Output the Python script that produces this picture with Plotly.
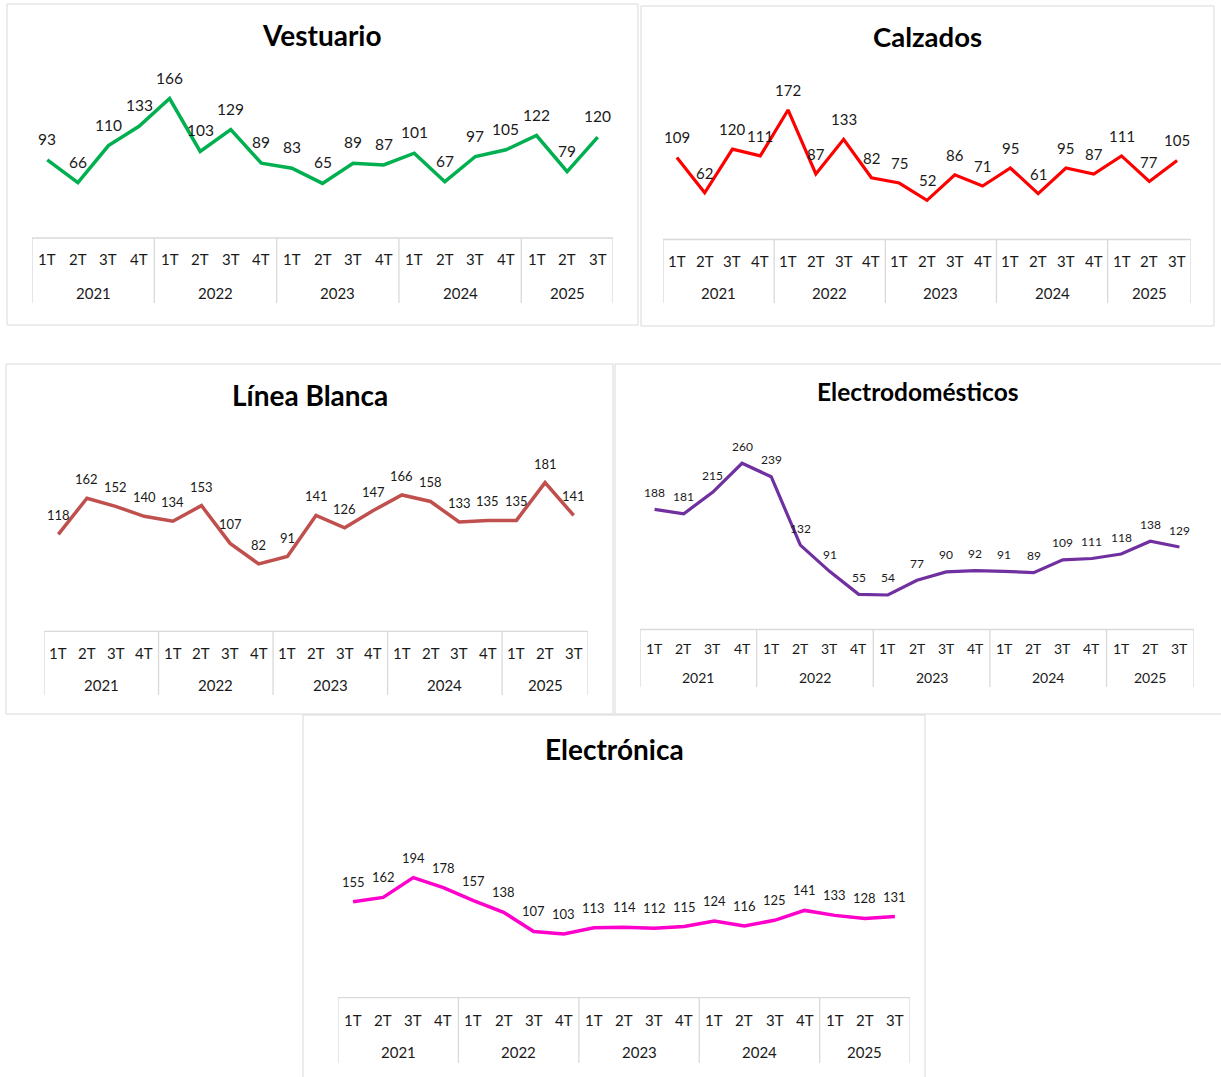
import plotly.graph_objects as go

W, H = 1221, 1077

# ---------------- data ----------------
quarters = ["1T", "2T", "3T", "4T", "1T", "2T", "3T", "4T", "1T", "2T", "3T", "4T",
            "1T", "2T", "3T", "4T", "1T", "2T", "3T"]
years = ["2021", "2022", "2023", "2024", "2025"]
quarters_per_year = [4, 4, 4, 4, 3]

vestuario = [93, 66, 110, 133, 166, 103, 129, 89, 83, 65, 89, 87, 101, 67, 97, 105, 122, 79, 120]
calzados = [109, 62, 120, 111, 172, 87, 133, 82, 75, 52, 86, 71, 95, 61, 95, 87, 111, 77, 105]
linea_blanca = [118, 162, 152, 140, 134, 153, 107, 82, 91, 141, 126, 147, 166, 158, 133, 135, 135, 181, 141]
electrodomesticos = [188, 181, 215, 260, 239, 132, 91, 55, 54, 77, 90, 92, 91, 89, 109, 111, 118, 138, 129]
electronica = [155, 162, 194, 178, 157, 138, 107, 103, 113, 114, 112, 115, 124, 116, 125, 141, 133, 128, 131]

titles = ["Vestuario", "Calzados", "Línea Blanca", "Electrodomésticos", "Electrónica"]
series = [vestuario, calzados, linea_blanca, electrodomesticos, electronica]

# ---------------- styles / layout (pixels) ----------------
styles = [
    dict(color="#00b050", lw=3.5, frame=(7, 4, 638, 325), tpos=(322, 35), tsize=28,
         table=(32, 613, 238, 303), qy=259, yy=293, ymax=200, ytop=70, lsize=15.5, loff=21, qsize=15),
    dict(color="#ff0000", lw=3.2, frame=(641, 6, 1214, 326), tpos=(927, 37), tsize=27.5,
         table=(663, 1191, 239.5, 303), qy=261, yy=293, ymax=200, ytop=88.9, lsize=15, loff=20, qsize=15),
    dict(color="#c0504d", lw=3.5, frame=(6, 364, 613, 714), tpos=(310, 395), tsize=28,
         table=(44, 588, 631.3, 695), qy=653, yy=685, ymax=200, ytop=467, lsize=13, loff=19, qsize=15),
    dict(color="#7030a0", lw=3.2, frame=(615, 364, 1223, 714), tpos=(918, 391), tsize=24.5,
         table=(640, 1194, 629.5, 687), qy=648, yy=677, ymax=300, ytop=437.7, lsize=12, loff=17, qsize=14),
    dict(color="#ff00cc", lw=3.5, frame=(303, 715, 925, 1080), tpos=(614, 749), tsize=28,
         table=(338, 910, 997.7, 1063), qy=1020, yy=1052, ymax=300, ytop=812, lsize=13, loff=20, qsize=15),
]

FONT = "Lato"
GRID = "#d9d9d9"
TEXT = "#1a1a1a"


def py(p):
    return 1 - p / H


def px(p):
    return p / W


fig = go.Figure()
shapes = []
annotations = []
layout_axes = {}

for k, (title, vals, st) in enumerate(zip(titles, series, styles)):
    n = k + 1
    xname = "x" if n == 1 else f"x{n}"
    yname = "y" if n == 1 else f"y{n}"
    xl, xr, ttop, tbot = st["table"]

    fig.add_trace(go.Scatter(
        x=list(range(len(vals))), y=vals, mode="lines",
        line=dict(color=st["color"], width=st["lw"]),
        xaxis=xname, yaxis=yname, hoverinfo="skip", showlegend=False,
        cliponaxis=False,
    ))

    xkey = "xaxis" if n == 1 else f"xaxis{n}"
    ykey = "yaxis" if n == 1 else f"yaxis{n}"
    layout_axes[xkey] = dict(domain=[px(xl), px(xr)], range=[-0.5, len(vals) - 0.5],
                             anchor=yname, visible=False, fixedrange=True)
    layout_axes[ykey] = dict(domain=[py(ttop), py(st["ytop"])], range=[0, st["ymax"]],
                             anchor=xname, visible=False, fixedrange=True)

    # panel frame
    fx0, fy0, fx1, fy1 = st["frame"]
    shapes.append(dict(type="rect", xref="paper", yref="paper",
                       x0=px(fx0), x1=px(fx1), y0=py(fy1), y1=py(fy0),
                       line=dict(color=GRID, width=1), fillcolor="rgba(0,0,0,0)", layer="below"))

    # title
    annotations.append(dict(text=f"<b>{title}</b>", xref="paper", yref="paper",
                            x=px(st["tpos"][0]), y=py(st["tpos"][1]), showarrow=False,
                            xanchor="center", yanchor="middle",
                            font=dict(family=FONT, size=st["tsize"], color="#000000")))

    # data labels
    for i, v in enumerate(vals):
        annotations.append(dict(text=str(v), xref=xname, yref=yname, x=i, y=v,
                                yshift=st["loff"], showarrow=False,
                                xanchor="center", yanchor="middle",
                                font=dict(family=FONT, size=st["lsize"], color=TEXT)))

    # category table: top line
    xd = "x" if n == 1 else f"x{n}"
    shapes.append(dict(type="line", xref=xd, yref="paper", x0=-0.5, x1=len(vals) - 0.5,
                       y0=py(ttop), y1=py(ttop), line=dict(color=GRID, width=1.3)))
    # vertical separators
    bounds = [-0.5]
    for c in quarters_per_year:
        bounds.append(bounds[-1] + c)
    for b in bounds:
        shapes.append(dict(type="line", xref=xd, yref="paper", x0=b, x1=b,
                           y0=py(tbot), y1=py(ttop), line=dict(color=GRID, width=1.3)))
    # quarter labels
    for i, q in enumerate(quarters):
        annotations.append(dict(text=q, xref=xd, yref="paper", x=i, y=py(st["qy"]),
                                showarrow=False, xanchor="center", yanchor="middle",
                                font=dict(family=FONT, size=st["qsize"], color=TEXT)))
    # year labels
    for j, yr in enumerate(years):
        center = (bounds[j] + bounds[j + 1]) / 2
        annotations.append(dict(text=yr, xref=xd, yref="paper", x=center, y=py(st["yy"]),
                                showarrow=False, xanchor="center", yanchor="middle",
                                font=dict(family=FONT, size=st["qsize"], color=TEXT)))

fig.update_layout(
    width=W, height=H,
    margin=dict(l=0, r=0, t=0, b=0),
    paper_bgcolor="white", plot_bgcolor="rgba(0,0,0,0)",
    shapes=shapes, annotations=annotations,
    showlegend=False,
    font=dict(family=FONT),
    **layout_axes,
)

fig.write_html("out.html", config={"displayModeBar": False},
               post_script="document.body.style.margin='0';document.body.style.overflow='hidden';")
